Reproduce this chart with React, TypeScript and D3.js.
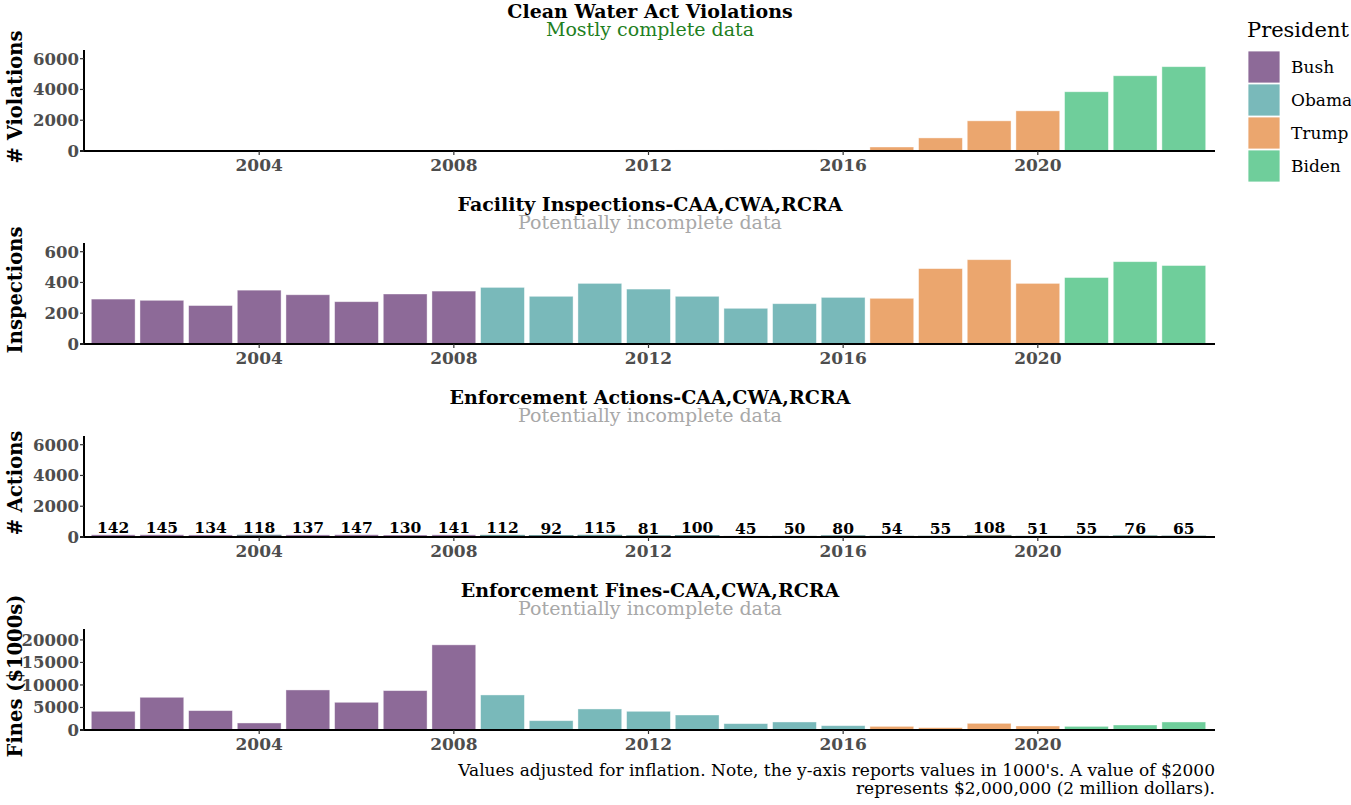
import * as d3 from "d3";

const years = [2001, 2002, 2003, 2004, 2005, 2006, 2007, 2008, 2009, 2010, 2011, 2012, 2013, 2014, 2015, 2016, 2017, 2018, 2019, 2020, 2021, 2022, 2023];
const presidentOf = ["Bush", "Bush", "Bush", "Bush", "Bush", "Bush", "Bush", "Bush", "Obama", "Obama", "Obama", "Obama", "Obama", "Obama", "Obama", "Obama", "Trump", "Trump", "Trump", "Trump", "Biden", "Biden", "Biden"];

const violations = [0, 0, 0, 0, 0, 0, 0, 0, 0, 0, 0, 0, 40, 40, 40, 0, 260, 850, 1960, 2610, 3850, 4890, 5480];
const inspections = [292, 284, 250, 350, 320, 275, 325, 344, 368, 310, 394, 357, 310, 232, 262, 303, 297, 490, 548, 394, 432, 535, 510];
const actions = [142, 145, 134, 118, 137, 147, 130, 141, 112, 92, 115, 81, 100, 45, 50, 80, 54, 55, 108, 51, 55, 76, 65];
const fines = [4150, 7260, 4300, 1560, 8890, 6150, 8740, 18900, 7780, 2070, 4670, 4150, 3330, 1410, 1780, 960, 810, 520, 1480, 890, 810, 1110, 1780];

const presidents = ["Bush", "Obama", "Trump", "Biden"];
const colors = ["#8d6a98", "#79b9ba", "#eba66e", "#6fce9b"];
const xTicks = [2004, 2008, 2012, 2016, 2020];

const panels = [
  { title: "Clean Water Act Violations", sub: "Mostly complete data", subColor: "#1f7f1f", yLabel: "# Violations", values: violations, yMax: 6500, yTicks: [0, 2000, 4000, 6000], labels: false },
  { title: "Facility Inspections-CAA,CWA,RCRA", sub: "Potentially incomplete data", subColor: "#a8a8a8", yLabel: "Inspections", values: inspections, yMax: 650, yTicks: [0, 200, 400, 600], labels: false },
  { title: "Enforcement Actions-CAA,CWA,RCRA", sub: "Potentially incomplete data", subColor: "#a8a8a8", yLabel: "# Actions", values: actions, yMax: 6500, yTicks: [0, 2000, 4000, 6000], labels: true },
  { title: "Enforcement Fines-CAA,CWA,RCRA", sub: "Potentially incomplete data", subColor: "#a8a8a8", yLabel: "Fines ($1000s)", values: fines, yMax: 22200, yTicks: [0, 5000, 10000, 15000, 20000], labels: false },
];

const W = 1351;
const H = 805;
const left = 84;
const right = 1213;
const font = "'DejaVu Serif', serif";

const color = d3.scaleOrdinal<string, string>().domain(presidents).range(colors);
const x = d3.scaleLinear().domain([2000.4, 2023.6]).range([left, right]);
const bw = (x(2001) - x(2000)) * 0.9;

export default function App() {
  return (
    <svg width={W} height={H} style={{ display: "block", position: "absolute", left: 0, top: 0, fontFamily: font }}>
      <rect width={W} height={H} fill="#fff" />
      {panels.map((p, i) => {
        const bottom = 151 + 193 * i;
        const y = d3.scaleLinear().domain([0, p.yMax]).range([bottom, bottom - 100]);
        return (
          <g key={p.title}>
            <text x={650} y={bottom - 133} textAnchor="middle" fontSize={19} fontWeight="bold" fill="#000">{p.title}</text>
            <text x={650} y={bottom - 115} textAnchor="middle" fontSize={19} fill={p.subColor}>{p.sub}</text>
            <text transform={`translate(22,${bottom - 54}) rotate(-90)`} textAnchor="middle" fontSize={19.5} fontWeight="bold" fill="#000">{p.yLabel}</text>
            {p.values.map((v, j) => (
              <rect key={j} x={x(years[j]) - bw / 2} width={bw} y={y(v)} height={bottom - y(v)}
                fill={color(presidentOf[j])} stroke={v > 0 && v < p.yMax * 0.02 ? "#3f6f70" : "#fff"} strokeOpacity={v > 0 && v < p.yMax * 0.02 ? 0.8 : 0.5} strokeWidth={0.8} />
            ))}
            {p.labels && p.values.map((v, j) => (
              <text key={"l" + j} x={x(years[j])} y={y(v) - 2} textAnchor="middle" fontSize={15.5} fontWeight="bold" fill="#000">{v}</text>
            ))}
            <line x1={left} x2={left} y1={bottom - 101} y2={bottom + 1} stroke="#000" strokeWidth={2} />
            <line x1={left - 4} x2={right + 2} y1={bottom} y2={bottom} stroke="#000" strokeWidth={2} />
            {p.yTicks.map((t) => (
              <g key={t}>
                <line x1={left - 4} x2={left} y1={y(t)} y2={y(t)} stroke="#333" strokeWidth={1.2} />
                <text x={left - 5} y={y(t)} dy="0.36em" textAnchor="end" fontSize={16.5} fontWeight="bold" fill="#4d4d4d">{t}</text>
              </g>
            ))}
            {xTicks.map((t) => (
              <g key={t}>
                <line x1={x(t)} x2={x(t)} y1={bottom} y2={bottom + 4} stroke="#333" strokeWidth={1.2} />
                <text x={x(t)} y={bottom + 20} textAnchor="middle" fontSize={17} fontWeight="bold" fill="#4d4d4d">{t}</text>
              </g>
            ))}
          </g>
        );
      })}
      <text x={right + 2} y={776} textAnchor="end" fontSize={17} fill="#000">Values adjusted for inflation. Note, the y-axis reports values in 1000's. A value of $2000</text>
      <text x={right + 2} y={794} textAnchor="end" fontSize={17} fill="#000">represents $2,000,000 (2 million dollars).</text>
      <g transform="translate(1247,0)">
        <text x={0} y={37} fontSize={21} fill="#000">President</text>
        {presidents.map((pr, i) => (
          <g key={pr} transform={`translate(1,${51 + 33 * i})`}>
            <rect width={32} height={32} fill={color(pr)} stroke="#fff" strokeWidth={0.8} />
            <text x={43} y={16} dy="0.36em" fontSize={17} fill="#000">{pr}</text>
          </g>
        ))}
      </g>
    </svg>
  );
}
